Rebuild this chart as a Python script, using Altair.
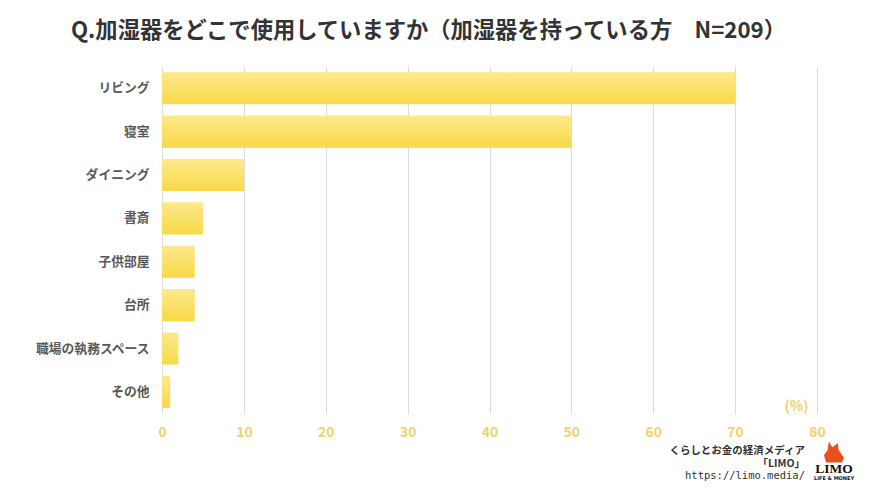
import altair as alt
import pandas as pd

categories = ["リビング", "寝室", "ダイニング", "書斎", "子供部屋", "台所", "職場の執務スペース", "その他"]
values = [70, 50, 10, 5, 4, 4, 2, 1]
x_ticks = [0, 10, 20, 30, 40, 50, 60, 70, 80]
title_text = "Q.加湿器をどこで使用していますか（加湿器を持っている方　N=209）"
footer_lines = ["くらしとお金の経済メディア", "「LIMO」", "https://limo.media/"]
logo_texts = ["LIMO", "LIFE & MONEY"]

JP = "Noto Sans CJK JP"
W, H = 655, 347

df = pd.DataFrame({"場所": categories, "割合": values})

bars = alt.Chart(df).mark_bar(
    color=alt.Gradient(
        gradient="linear",
        stops=[alt.GradientStop(color="#FCE98C", offset=0),
               alt.GradientStop(color="#F8D947", offset=1)],
        x1=0, x2=0, y1=0, y2=1,
    )
).encode(
    x=alt.X("割合:Q", scale=alt.Scale(domain=[0, 80], nice=False),
            axis=alt.Axis(values=x_ticks, title="(%)", titleX=634, titleY=-7,
                          titleAlign="center", titleBaseline="middle", titleAngle=0,
                          titleColor="#F2D06B", titleFont=JP, titleFontSize=14,
                          titleFontWeight="bold",
                          labelColor="#F2D06B", labelFont=JP, labelFontSize=14,
                          labelFontWeight="bold", labelPadding=12, labelFlush=False,
                          domain=False, ticks=False, grid=True,
                          gridColor="#DCDCDC", gridWidth=1)),
    y=alt.Y("場所:N", sort=categories, title=None,
            scale=alt.Scale(paddingInner=0.26, paddingOuter=0.13),
            axis=alt.Axis(labelColor="#595959", labelFont=JP, labelFontSize=12.8,
                          labelFontWeight="bold", labelPadding=13,
                          domain=False, ticks=False, grid=False)),
)

def txt(s, x, y, size, color="#333333", font=JP, weight="normal", align="right"):
    return alt.Chart(pd.DataFrame({"t": [s]})).mark_text(
        font=font, fontSize=size, fontWeight=weight, color=color,
        align=align, baseline="middle"
    ).encode(text="t:N", x=alt.value(x), y=alt.value(y))

foot1 = txt(footer_lines[0], 643, 384, 10.5, font=JP, weight="bold")
foot2 = txt(footer_lines[1], 643, 397, 10.5, font=JP, weight="bold")
foot3 = txt(footer_lines[2], 643, 409, 10.5, font="DejaVu Sans Mono")

fox = alt.Chart(pd.DataFrame({"t": [1]})).mark_point(
    shape="M -0.5 -1 L -0.15 -0.45 L 0.35 -0.85 L 0.45 -0.2 L 0.95 0.55 L 0.75 1 L -0.75 1 L -0.95 0.3 L -0.6 -0.2 Z",
    filled=True, color="#E8501C", opacity=1, size=441
).encode(x=alt.value(672), y=alt.value(385.5))

logo1 = txt(logo_texts[0], 672, 402.5, 13.5, color="#111111", font="Liberation Serif", weight="bold", align="center")
logo2 = txt(logo_texts[1], 672, 411, 5, color="#111111", font="DejaVu Sans", weight="bold", align="center")

chart = alt.layer(bars, foot1, foot2, foot3, fox, logo1, logo2).properties(
    width=W, height=H,
    background="white",
    title=alt.TitleParams(title_text, anchor="middle", dx=-61, offset=24,
                          font=JP, fontSize=22.3, fontWeight="bold", color="#333333"),
    autosize=alt.AutoSizeParams(type="none"),
    padding={"left": 154, "top": 58.6, "right": 45, "bottom": 67},
).configure_view(strokeWidth=0)

chart.save("out.html", embed_options={"renderer": "svg", "actions": False})
